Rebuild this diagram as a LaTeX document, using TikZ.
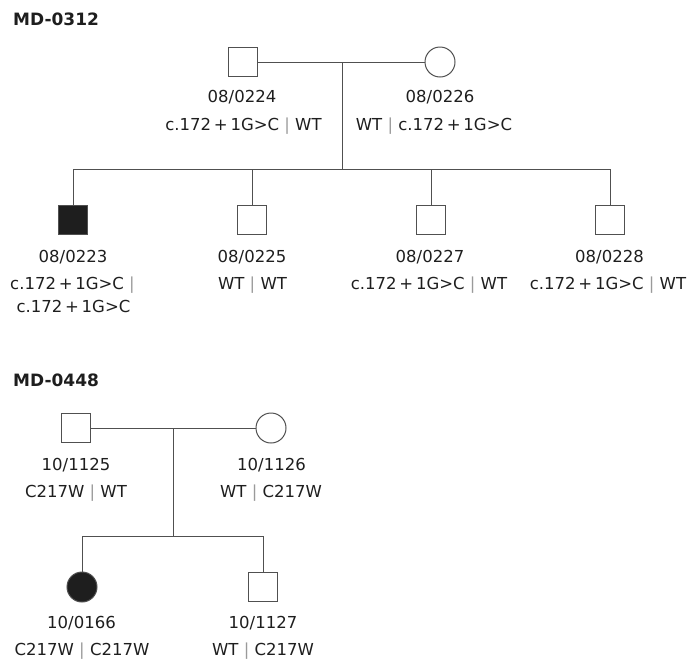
\documentclass[tikz,border=0pt]{standalone}
\usepackage{fontspec}
\setmainfont{DejaVu Sans}
\usetikzlibrary{calc}

\definecolor{lincol}{HTML}{505050}
\definecolor{txtcol}{HTML}{1E1E1E}
\definecolor{barcol}{HTML}{9A9A9A}
\newcommand{\gsep}{{\color{barcol}|}}
\newcommand{\splice}{c.172\,+\,1G>C}

\begin{document}
\begin{tikzpicture}[x=1pt,y=-1pt,
	male/.style={rectangle, draw=lincol, line width=1pt, fill=white, minimum size=29pt, inner sep=0},
	female/.style={circle, draw=lincol, line width=1pt, fill=white, minimum size=30pt, inner sep=0},
	ttl/.style={anchor=west, inner sep=0, text=txtcol, font=\fontsize{17}{20}\selectfont\bfseries},
	lab/.style={anchor=base, inner sep=0, text=txtcol, font=\fontsize{16.5}{27}\selectfont},
	link/.style={draw=lincol, line width=1pt}]

		\useasboundingbox (0,0) rectangle (690,662);

		%family MD-0312
		\node[ttl] at (13,19) (t1) {MD-0312};
		\node[male] at (243,62) (f1) {};
		\node[female] at (440,62) (m1) {};
		\coordinate (mm1) at (342,62);
		\coordinate (s1) at (342,169);
		\draw[link] (f1) -- (m1);
		\draw[link] (mm1) -- (s1);

		\node[male,fill=txtcol] at (73,220) (c11) {};
		\foreach \i/\x in {2/252,3/431,4/610} {
			\node[male] at (\x,220) (c1\i) {};
		}
		\draw[link] (c11.north |- s1) -- (c14.north |- s1);
		\foreach \i in {1,...,4} {
			\draw[link] (c1\i.north |- s1) -- (c1\i.north);
		}

		\node[lab] at (242,102.5) (f1id) {08/0224};
		\node[lab] at (243.5,130) (f1gt) {\splice{} \gsep{} WT};
		\node[lab] at (440,102.5) (m1id) {08/0226};
		\node[lab] at (434,130) (m1gt) {WT \gsep{} \splice};

		\node[lab] at (73,262) (c11id) {08/0223};
		\node[lab] at (72.5,289) (c11gt) {\splice{} \gsep};
		\node[lab] at (73.5,312) (c11gt2) {\splice};
		\node[lab] at (252,262) (c12id) {08/0225};
		\node[lab] at (252.5,289) (c12gt) {WT \gsep{} WT};
		\node[lab] at (430,262) (c13id) {08/0227};
		\node[lab] at (429,289) (c13gt) {\splice{} \gsep{} WT};
		\node[lab] at (609.5,262) (c14id) {08/0228};
		\node[lab] at (608,289) (c14gt) {\splice{} \gsep{} WT};

		%family MD-0448
		\node[ttl] at (13,380) (t2) {MD-0448};
		\node[male] at (76,428) (f2) {};
		\node[female] at (271,428) (m2) {};
		\coordinate (mm2) at (173,428);
		\coordinate (s2) at (173,536);
		\draw[link] (f2) -- (m2);
		\draw[link] (mm2) -- (s2);

		\node[female,fill=txtcol] at (82,587) (c21) {};
		\node[male] at (263,587) (c22) {};
		\draw[link] (c21.north |- s2) -- (c22.north |- s2);
		\foreach \i in {1,2} {
			\draw[link] (c2\i.north |- s2) -- (c2\i.north);
		}

		\node[lab] at (76,470) (f2id) {10/1125};
		\node[lab] at (76,497) (f2gt) {C217W \gsep{} WT};
		\node[lab] at (271.5,470) (m2id) {10/1126};
		\node[lab] at (271,497) (m2gt) {WT \gsep{} C217W};
		\node[lab] at (81.5,628) (c21id) {10/0166};
		\node[lab] at (82,655) (c21gt) {C217W \gsep{} C217W};
		\node[lab] at (263,628) (c22id) {10/1127};
		\node[lab] at (263,655) (c22gt) {WT \gsep{} C217W};
	\end{tikzpicture}
\end{document}
